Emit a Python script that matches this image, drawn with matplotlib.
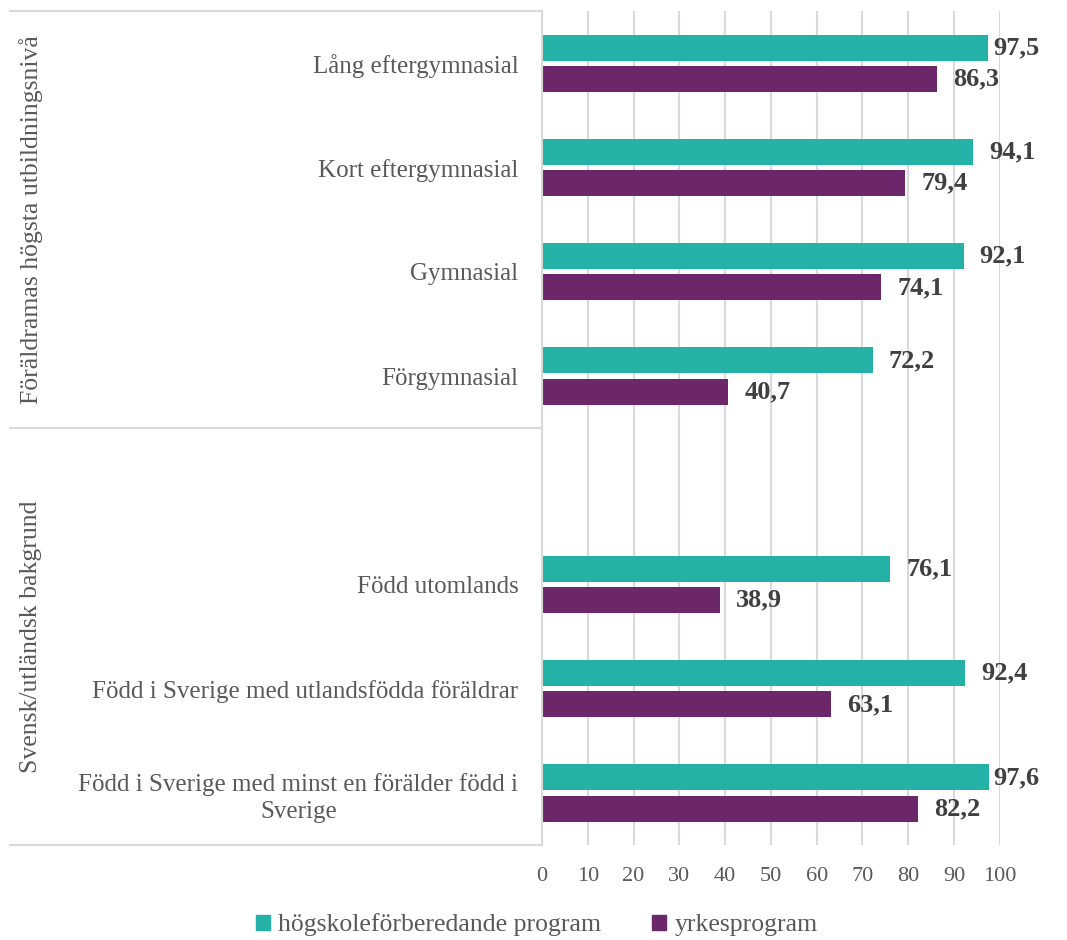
import matplotlib
matplotlib.use("Agg")
import matplotlib.pyplot as plt
from matplotlib.lines import Line2D
from matplotlib.patches import Patch

plt.rcParams['font.family'] = ['Liberation Serif', 'DejaVu Serif']

# kategorier uppifrån och ned, tom plats mellan grupperna
categories = ["Lång eftergymnasial", "Kort eftergymnasial", "Gymnasial", "Förgymnasial", "",
              "Född utomlands", "Född i Sverige med utlandsfödda föräldrar",
              "Född i Sverige med minst en förälder född i\nSverige"]
hogskole = [97.5, 94.1, 92.1, 72.2, None, 76.1, 92.4, 97.6]
yrkes = [86.3, 79.4, 74.1, 40.7, None, 38.9, 63.1, 82.2]
series_names = ["högskoleförberedande program", "yrkesprogram"]
groups = ["Föräldramas högsta utbildningsnivå", "Svensk/utländsk bakgrund"]
xticks = list(range(0, 101, 10))

teal = "#23B2A5"
purple = "#6B2769"
grid_c = "#D9D9D9"
txt_c = "#595959"
lab_c = "#404040"

fig = plt.figure(figsize=(10.67, 9.4), dpi=100)
ax = fig.add_axes([0.508, 0.101, 0.429, 0.887])

ypos = list(range(len(categories)))
h = 0.25
off = 0.15
for i, (a, b) in enumerate(zip(hogskole, yrkes)):
    if a is None:
        continue
    ax.barh(i - off, a, height=h, color=teal)
    ax.barh(i + off, b, height=h, color=purple)
    ax.text(min(a + 3.5, 98.6), i - off, f"{a:.1f}".replace(".", ","), va="center",
            ha="left", fontsize=19, fontweight="bold", color=lab_c)
    ax.text(min(b + 3.5, 98.6), i + off, f"{b:.1f}".replace(".", ","), va="center",
            ha="left", fontsize=19, fontweight="bold", color=lab_c)

ax.set_xlim(0, 100)
ax.set_ylim(len(categories) - 0.5, -0.5)
ax.set_xticks(xticks)
ax.set_yticks(ypos)
ax.set_yticklabels(categories, fontsize=18, color=txt_c, multialignment="center",
                   linespacing=1.3)
ax.tick_params(axis="both", length=0, colors=txt_c)
ax.tick_params(axis="x", labelsize=16, pad=16)
ax.tick_params(axis="y", pad=17)
ax.grid(axis="x", color=grid_c, linewidth=1.5)
ax.set_axisbelow(True)
for s in ["top", "right", "bottom"]:
    ax.spines[s].set_visible(False)
ax.spines["left"].set_color(grid_c)
ax.spines["left"].set_linewidth(1.5)

# tabellinjer till vänster
x0 = 10 / 1067
x1 = 0.508
for yd in [-0.5, 3.5, len(categories) - 0.5]:
    yf = fig.transFigure.inverted().transform(ax.transData.transform((0, yd)))[1]
    fig.add_artist(Line2D([x0, x1], [yf, yf], color=grid_c, linewidth=1.5))

for g, (ya, yb) in zip(groups, [(-0.5, 3.5), (3.5, len(categories) - 0.5)]):
    yf = fig.transFigure.inverted().transform(ax.transData.transform((0, (ya + yb) / 2)))[1]
    fig.text(31 / 1067, yf, g, rotation=90, ha="center", va="center", fontsize=18.5, color=txt_c)

handles = [Patch(color=teal), Patch(color=purple)]
fig.legend(handles, series_names, loc="center", bbox_to_anchor=(0.503, 0.016), ncol=2,
           frameon=False, fontsize=18.5, labelcolor=txt_c, handlelength=0.55, handleheight=0.55,
           handletextpad=0.3, columnspacing=2.0)

fig.savefig("out.png", dpi=100)
